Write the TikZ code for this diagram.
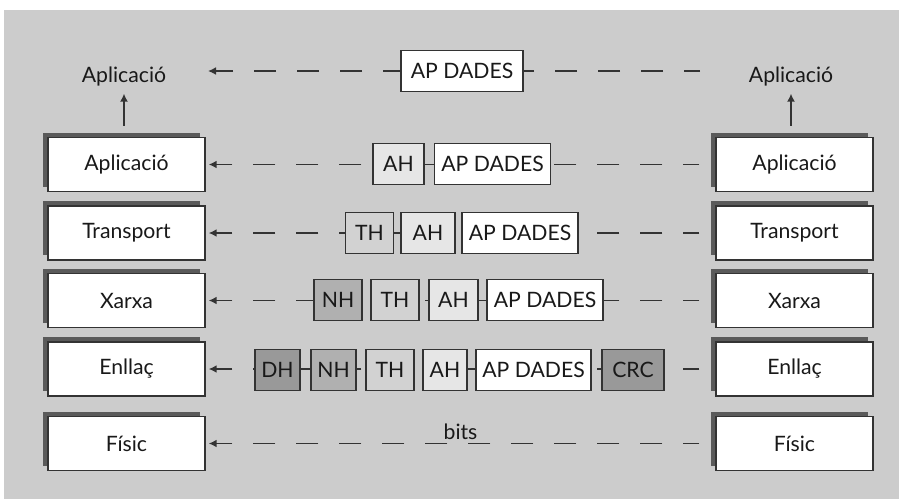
\documentclass[tikz,border=0pt]{standalone}
\usepackage{fontspec}
\setmainfont{Lato}
\usetikzlibrary{arrows.meta,shadows}

\definecolor{bggray}{HTML}{CCCCCC}
\definecolor{linegray}{HTML}{333333}
\definecolor{shadowgray}{HTML}{5A5A5A}
\definecolor{ahfill}{HTML}{E6E6E6}
\definecolor{thfill}{HTML}{D2D2D2}
\definecolor{nhfill}{HTML}{B0B0B0}
\definecolor{dhfill}{HTML}{999999}

\tikzset{layer/.style={draw=linegray, line width=0.7pt, fill=white, minimum width=78.5pt, minimum height=27pt, inner sep=0pt, drop shadow={shadow xshift=-2.5pt, shadow yshift=2.5pt, fill=shadowgray, opacity=1}}}
\tikzset{pkt/.style={draw=linegray, line width=0.7pt, minimum height=20.5pt, inner sep=0pt}}
\tikzset{apd/.style={pkt, fill=white, minimum width=58pt}}
\tikzset{hdr/.style={pkt, minimum width=24pt}}
\tikzset{peer/.style={draw=linegray, line width=0.8pt, dash pattern=on 11pt off 10.5pt, dash phase=3pt, -{Latex[length=4pt,width=4pt]}, shorten <=8pt, shorten >=1.5pt}}
\tikzset{upflow/.style={draw=linegray, line width=0.7pt, -{Latex[length=4pt,width=4pt]}, shorten <=5.5pt}}

\begin{document}
\begin{tikzpicture}[x=0.5pt, y=-0.5pt, text=black!90, font=\fontsize{10.6}{12}\selectfont]

    \useasboundingbox (0,0) rectangle (899,499);
    \fill[bggray] (4,10) rectangle (899,499);

    % layers, left and right
    \node[layer] (lA) at (126.5,164.5) {Aplicació};
    \node[layer] (lT) at (126.5,233) {Transport};
    \node[layer] (lX) at (126.5,300.5) {Xarxa};
    \node[layer] (lE) at (126.5,369) {Enllaç};
    \node[layer] (lF) at (126.5,443.5) {Físic};

    \node[layer] (rA) at (794.5,164.5) {Aplicació};
    \node[layer] (rT) at (794.5,233) {Transport};
    \node[layer] (rX) at (794.5,300.5) {Xarxa};
    \node[layer] (rE) at (794.5,369) {Enllaç};
    \node[layer] (rF) at (794.5,443.5) {Físic};

    \node (appL) at (124,77) {Aplicació};
    \node (appR) at (791,77) {Aplicació};
    \draw[upflow] (lA.north -| appL) -- (appL);
    \draw[upflow] (rA.north -| appR) -- (appR);

    % peer lines
    \coordinate (topL) at (205,71);
    \coordinate (topR) at (716,71);
    \draw[peer] (topR) -- (topL);
    \draw[peer] (rA.west) -- (lA.east);
    \draw[peer] (rT.west) -- (lT.east);
    \draw[peer] (rX.west) -- (lX.east);
    \draw[peer] (rE.west) -- (lE.east);
    \draw[peer] (rF.west) -- node[above, inner sep=1.5pt] {bits} (lF.east);

    % packets
    \node[apd, minimum width=61pt] (d0) at (462,71) {AP DADES};

    \node[hdr, fill=ahfill, minimum width=25.5pt] (ah1) at (398.5,164) {AH};
    \node[apd] (d1) at (492.5,164) {AP DADES};

    \node[hdr, fill=thfill] (th2) at (369.5,233) {TH};
    \node[hdr, fill=ahfill, minimum width=27pt] (ah2) at (428,233) {AH};
    \node[apd] (d2) at (520,233) {AP DADES};

    \node[hdr, fill=nhfill] (nh3) at (338,300) {NH};
    \node[hdr, fill=thfill] (th3) at (395,300) {TH};
    \node[hdr, fill=ahfill, minimum width=24.5pt] (ah3) at (453.5,300) {AH};
    \node[apd] (d3) at (545,300) {AP DADES};

    \node[hdr, fill=dhfill, minimum width=22.5pt] (dh4) at (277.5,370) {DH};
    \node[hdr, fill=nhfill, minimum width=22.5pt] (nh4) at (333.5,370) {NH};
    \node[hdr, fill=thfill] (th4) at (390,370) {TH};
    \node[hdr, fill=ahfill, minimum width=22pt] (ah4) at (445,370) {AH};
    \node[apd, minimum width=57.5pt] (d4) at (533.5,370) {AP DADES};
    \node[hdr, fill=dhfill, minimum width=31pt] (crc4) at (633,370) {CRC};

\end{tikzpicture}
\end{document}
